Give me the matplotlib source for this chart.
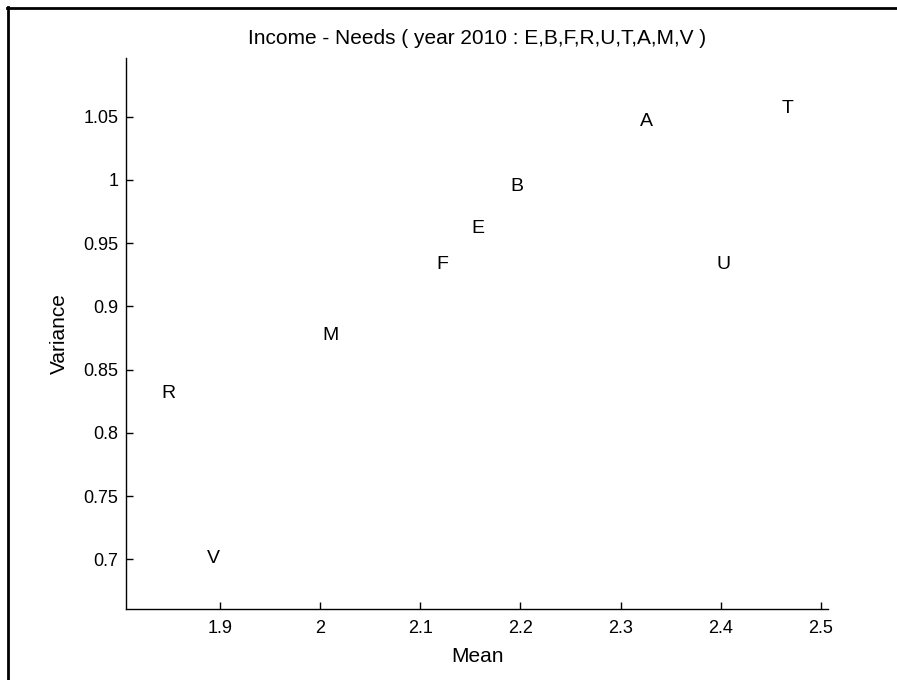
import matplotlib
matplotlib.use("Agg")
import matplotlib.pyplot as plt
from matplotlib.lines import Line2D

plt.rcParams['font.family'] = ['Liberation Sans', 'DejaVu Sans']

# region codes with (mean, variance) of income - needs, year 2010
labels = ["E", "B", "F", "R", "U", "T", "A", "M", "V"]
means = [2.1515, 2.190, 2.1159, 1.8414, 2.3953, 2.4612, 2.3195, 2.0018, 1.8873]
variances = [0.9617, 0.9945, 0.9327, 0.8312, 0.9327, 1.0565, 1.0459, 0.8773, 0.7008]

xticks = [1.9, 2.0, 2.1, 2.2, 2.3, 2.4, 2.5]
xticklabels = ["1.9", "2", "2.1", "2.2", "2.3", "2.4", "2.5"]
yticks = [0.7, 0.75, 0.8, 0.85, 0.9, 0.95, 1.0, 1.05]
yticklabels = ["0.7", "0.75", "0.8", "0.85", "0.9", "0.95", "1", "1.05"]

fig = plt.figure(figsize=(8.97, 6.8), dpi=100)
ax = fig.add_axes([0.141, 0.1044, 0.782, 0.8103])

for lab, x, y in zip(labels, means, variances):
    ax.text(x, y, lab, ha="left", va="center", fontsize=14)

ax.set_xlim(1.8067, 2.507)
ax.set_ylim(0.6607, 1.0963)
ax.set_xticks(xticks)
ax.set_xticklabels(xticklabels)
ax.set_yticks(yticks)
ax.set_yticklabels(yticklabels)
ax.tick_params(direction="in", length=5, width=1, labelsize=13)
ax.tick_params(axis="x", pad=8)
ax.tick_params(axis="y", pad=6)
for s in ["top", "right"]:
    ax.spines[s].set_visible(False)
for s in ["left", "bottom"]:
    ax.spines[s].set_linewidth(1.0)

ax.set_xlabel("Mean", fontsize=15, labelpad=7)
ax.set_ylabel("Variance", fontsize=15, labelpad=10)
ax.set_title("Income - Needs ( year 2010 : E,B,F,R,U,T,A,M,V )", fontsize=15, pad=10)

# outer frame (only top and left edges visible in the source)
fig.add_artist(Line2D([7.5 / 897, 7.5 / 897], [0, 1 - 7 / 680], color="black", lw=2, transform=fig.transFigure))
fig.add_artist(Line2D([7 / 897, 1], [1 - 7.5 / 680, 1 - 7.5 / 680], color="black", lw=2, transform=fig.transFigure))

fig.savefig("out.png", dpi=100)
